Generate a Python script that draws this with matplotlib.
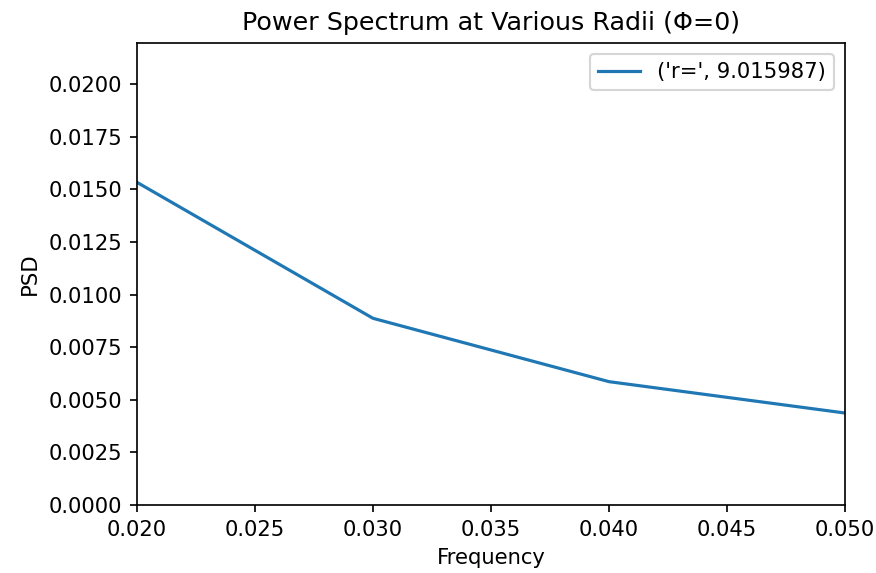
import numpy as np
import matplotlib
matplotlib.use('Agg')
import matplotlib.pyplot as plt

# values
freq = [0.02, 0.03, 0.04, 0.05]
psd = [0.01533, 0.00887, 0.00586, 0.00437]
radius = 9.015987

dpi = 152
fig = plt.figure(figsize=(876/dpi, 573/dpi), dpi=dpi)
ax = fig.add_axes([137/876, 1-505/573, (845-137)/876, (505-43)/573])

ax.plot(freq, psd, color='#1f77b4', lw=1.5, label=str(('r=', radius)))
ax.set_xlim(0.02, 0.05)
ax.set_ylim(0, 0.02195)
ax.set_xlabel('Frequency')
ax.set_ylabel('PSD')
ax.set_title('Power Spectrum at Various Radii (\u03a6=0)')
ax.legend(loc='upper right')

fig.savefig('out.png', dpi=dpi)
